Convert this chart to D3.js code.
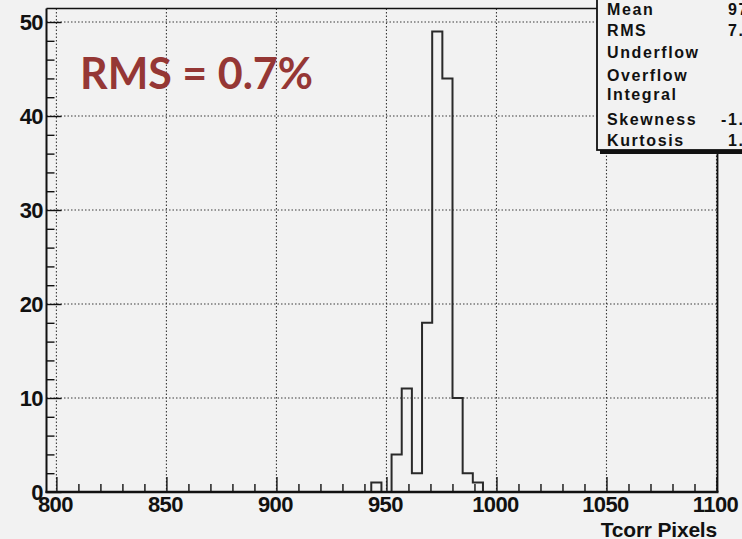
<!DOCTYPE html>
<html>
<head>
<meta charset="utf-8">
<script src="https://cdn.jsdelivr.net/npm/d3@7"></script>
<style>
  html, body { margin: 0; padding: 0; background: #f2f2f2; overflow: hidden; }
  svg { display: block; }
</style>
</head>
<body>
<div id="chart"></div>
<script>
// Histogram of corrected T positions (pixels)
const xDomain = [795.5, 1100];
const yDomain = [0, 51.45];
const binStart = 943.1;
const binWidth = 4.615;
const binCounts = [1, 0, 4, 11, 2, 18, 49, 44, 10, 2, 1];
const xTickValues = [800, 850, 900, 950, 1000, 1050, 1100];
const yTickValues = [0, 10, 20, 30, 40, 50];
const xAxisTitle = "Tcorr Pixels";
const annotation = "RMS = 0.7%";
const statNames = ["Mean", "RMS", "Underflow", "Overflow", "Integral", "Skewness", "Kurtosis"];
const statValues = ["972.7", "7.181", "0", "0", "142", "-1.263", "1.804"];

const W = 742, H = 539;
const svg = d3.select("#chart").append("svg").attr("width", W).attr("height", H);
svg.append("rect").attr("width", W).attr("height", H).attr("fill", "#f2f2f2");

const x = d3.scaleLinear().domain(xDomain).range([46.5, 716.5]);
const y = d3.scaleLinear().domain(yDomain).range([492, 8.4]);

const fontAxis = "'Liberation Sans', Arial, Helvetica, sans-serif";
const gridColor = "#3a3a3a";

// dotted grid
const grid = svg.append("g");
grid.selectAll("line.gx").data(xTickValues).join("line")
  .attr("x1", d => x(d)).attr("x2", d => x(d))
  .attr("y1", y.range()[1]).attr("y2", y.range()[0])
  .attr("stroke", gridColor).attr("stroke-width", 1.1).attr("stroke-dasharray", "1.5,2");
grid.selectAll("line.gy").data(yTickValues.filter(v => v > 0)).join("line")
  .attr("x1", x.range()[0]).attr("x2", x.range()[1])
  .attr("y1", d => y(d)).attr("y2", d => y(d))
  .attr("stroke", gridColor).attr("stroke-width", 1.1).attr("stroke-dasharray", "1.5,2");

// histogram outline
const pts = [];
pts.push([x(binStart), y(0)]);
binCounts.forEach((c, i) => {
  const a = binStart + i * binWidth, b = a + binWidth;
  pts.push([x(a), y(c)]);
  pts.push([x(b), y(c)]);
});
pts.push([x(binStart + binCounts.length * binWidth), y(0)]);
svg.append("path")
  .attr("d", d3.line()(pts))
  .attr("fill", "none").attr("stroke", "#2a2a2a").attr("stroke-width", 2)
  .attr("stroke-linejoin", "miter");

// axes with inward ticks
const xAxis = d3.axisBottom(x).tickValues(xTickValues).tickSize(-15).tickFormat("").tickSizeOuter(0);
const xMinor = d3.axisBottom(x).tickValues(d3.range(800, 1101, 10).filter(v => v % 50 !== 0)).tickSize(-8).tickFormat("").tickSizeOuter(0);
const yAxis = d3.axisLeft(y).tickValues(yTickValues).tickSize(-15).tickFormat("").tickSizeOuter(0);
const yMinor = d3.axisLeft(y).tickValues(d3.range(0, 51, 2).filter(v => v % 10 !== 0)).tickSize(-8).tickFormat("").tickSizeOuter(0);

[xAxis, xMinor].forEach(ax => {
  const g = svg.append("g").attr("transform", `translate(0,${y(0)})`).call(ax);
  g.select(".domain").remove();
  g.selectAll("line").attr("stroke", "#111").attr("stroke-width", 1.4);
});
[yAxis, yMinor].forEach(ax => {
  const g = svg.append("g").attr("transform", `translate(${x.range()[0]},0)`).call(ax);
  g.select(".domain").remove();
  g.selectAll("line").attr("stroke", "#111").attr("stroke-width", 1.4);
});

// frame
svg.append("line").attr("x1", x.range()[0]).attr("x2", x.range()[1] + 1)
  .attr("y1", y.range()[1]).attr("y2", y.range()[1]).attr("stroke", "#111").attr("stroke-width", 1.5);
svg.append("line").attr("x1", x.range()[1] + 1).attr("x2", x.range()[1] + 1)
  .attr("y1", y.range()[1]).attr("y2", y(0)).attr("stroke", "#111").attr("stroke-width", 1.8);
svg.append("line").attr("x1", x.range()[0]).attr("x2", x.range()[0])
  .attr("y1", y.range()[1]).attr("y2", y(0) + 1).attr("stroke", "#111").attr("stroke-width", 2);
svg.append("line").attr("x1", x.range()[0] - 1).attr("x2", x.range()[1] + 2)
  .attr("y1", y(0)).attr("y2", y(0)).attr("stroke", "#111").attr("stroke-width", 2.4);

// tick labels
svg.append("g").selectAll("text").data(xTickValues).join("text")
  .attr("x", d => x(d) - 1).attr("y", 512)
  .attr("text-anchor", "middle")
  .attr("font-family", fontAxis).attr("font-weight", "bold").attr("font-size", 22)
  .attr("letter-spacing", -0.6)
  .attr("fill", "#111").text(d => d);
svg.append("g").selectAll("text").data(yTickValues).join("text")
  .attr("x", 43).attr("y", d => y(d) + 7.5)
  .attr("text-anchor", "end")
  .attr("font-family", fontAxis).attr("font-weight", "bold").attr("font-size", 22)
  .attr("letter-spacing", -0.6)
  .attr("fill", "#111").text(d => d);

// axis title
svg.append("text").attr("x", 717).attr("y", 536.5).attr("text-anchor", "end")
  .attr("font-family", fontAxis).attr("font-weight", "bold").attr("font-size", 21)
  .attr("letter-spacing", -0.2)
  .attr("fill", "#111").text(xAxisTitle);

// annotation
svg.append("text").attr("x", 80).attr("y", 88.5)
  .attr("font-family", "Lato, 'Open Sans', sans-serif").attr("font-weight", "bold").attr("font-size", 43)
  .attr("fill", "#953735").text(annotation);

// statistics box
const box = svg.append("g");
box.append("rect").attr("x", 600).attr("y", -10).attr("width", 200).attr("height", 164).attr("fill", "#111");
box.append("rect").attr("x", 597).attr("y", -10).attr("width", 200).attr("height", 160)
  .attr("fill", "#f2f2f2").attr("stroke", "#111").attr("stroke-width", 1.8);
const statBaselines = [15, 36, 58, 81, 100, 125, 146];
box.selectAll("text.n").data(statNames).join("text")
  .attr("x", 607).attr("y", (d, i) => statBaselines[i])
  .attr("font-family", fontAxis).attr("font-weight", "bold").attr("font-size", 16)
  .attr("letter-spacing", 1.6).attr("fill", "#111").text(d => d);
box.selectAll("text.v").data(statValues).join("text")
  .attr("x", 776).attr("y", (d, i) => statBaselines[i]).attr("text-anchor", "end")
  .attr("font-family", fontAxis).attr("font-weight", "bold").attr("font-size", 16)
  .attr("letter-spacing", 1.6).attr("fill", "#111").text(d => d);
</script>
</body>
</html>
